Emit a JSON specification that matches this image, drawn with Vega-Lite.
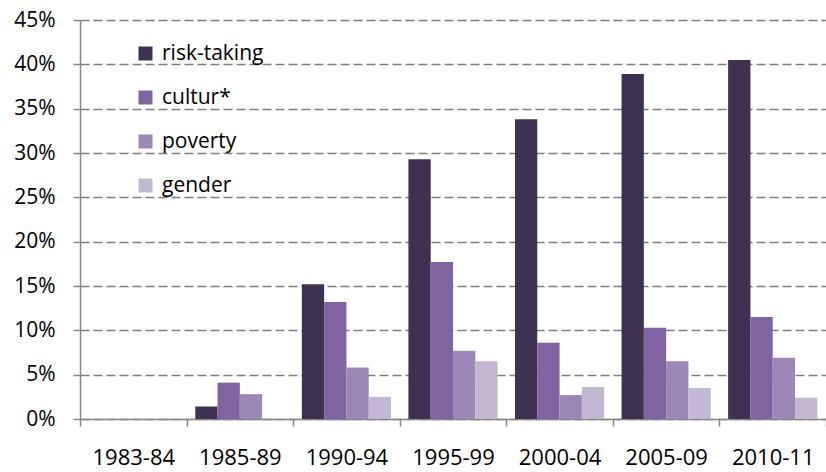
{
  "$schema": "https://vega.github.io/schema/vega-lite/v6.json",
  "width": 746,
  "height": 399,
  "autosize": {"type": "none"},
  "padding": {"left": 80, "top": 20, "right": 0, "bottom": 53},
  "background": "#ffffff",
  "config": {
    "font": "Open Sans",
    "view": {"stroke": null}
  },
  "data": {
    "values": [
      {"period": "1983-84", "series": "risk-taking", "value": 0},
      {"period": "1983-84", "series": "cultur*", "value": 0},
      {"period": "1983-84", "series": "poverty", "value": 0},
      {"period": "1983-84", "series": "gender", "value": 0},
      {"period": "1985-89", "series": "risk-taking", "value": 0.014},
      {"period": "1985-89", "series": "cultur*", "value": 0.041},
      {"period": "1985-89", "series": "poverty", "value": 0.028},
      {"period": "1985-89", "series": "gender", "value": 0},
      {"period": "1990-94", "series": "risk-taking", "value": 0.152},
      {"period": "1990-94", "series": "cultur*", "value": 0.132},
      {"period": "1990-94", "series": "poverty", "value": 0.058},
      {"period": "1990-94", "series": "gender", "value": 0.025},
      {"period": "1995-99", "series": "risk-taking", "value": 0.293},
      {"period": "1995-99", "series": "cultur*", "value": 0.177},
      {"period": "1995-99", "series": "poverty", "value": 0.077},
      {"period": "1995-99", "series": "gender", "value": 0.065},
      {"period": "2000-04", "series": "risk-taking", "value": 0.338},
      {"period": "2000-04", "series": "cultur*", "value": 0.086},
      {"period": "2000-04", "series": "poverty", "value": 0.027},
      {"period": "2000-04", "series": "gender", "value": 0.036},
      {"period": "2005-09", "series": "risk-taking", "value": 0.389},
      {"period": "2005-09", "series": "cultur*", "value": 0.103},
      {"period": "2005-09", "series": "poverty", "value": 0.065},
      {"period": "2005-09", "series": "gender", "value": 0.035},
      {"period": "2010-11", "series": "risk-taking", "value": 0.405},
      {"period": "2010-11", "series": "cultur*", "value": 0.115},
      {"period": "2010-11", "series": "poverty", "value": 0.069},
      {"period": "2010-11", "series": "gender", "value": 0.024}
    ]
  },
  "mark": {"type": "bar"},
  "encoding": {
    "x": {
      "field": "period",
      "type": "nominal",
      "sort": null,
      "scale": {"paddingInner": 0, "paddingOuter": 0},
      "axis": {
        "title": null,
        "labelAngle": 0,
        "tickBand": "extent",
        "domainColor": "#868686",
        "domainWidth": 1.5,
        "tickColor": "#868686",
        "tickWidth": 1.5,
        "tickSize": 7,
        "labelFontSize": 22,
        "labelColor": "#000000",
        "labelPadding": 21,
        "grid": false
      }
    },
    "xOffset": {
      "field": "series",
      "type": "nominal",
      "sort": ["risk-taking", "cultur*", "poverty", "gender"],
      "scale": {"paddingInner": 0, "paddingOuter": 0.39}
    },
    "y": {
      "field": "value",
      "type": "quantitative",
      "scale": {"domain": [0, 0.45], "nice": false},
      "axis": {
        "title": null,
        "format": ".0%",
        "values": [0, 0.05, 0.1, 0.15, 0.2, 0.25, 0.3, 0.35, 0.4, 0.45],
        "domainColor": "#868686",
        "domainWidth": 1.5,
        "tickColor": "#868686",
        "tickWidth": 1.5,
        "tickSize": 7,
        "labelFontSize": 21,
        "labelColor": "#000000",
        "labelPadding": 18,
        "grid": true,
        "gridColor": "#7f7f7f",
        "gridDash": [9, 4],
        "gridWidth": 1.3
      }
    },
    "color": {
      "field": "series",
      "type": "nominal",
      "scale": {
        "domain": ["risk-taking", "cultur*", "poverty", "gender"],
        "range": ["#3F3151", "#8064A2", "#9C88B5", "#C3B8D1"]
      },
      "legend": {
        "title": null,
        "orient": "none",
        "legendX": 55,
        "legendY": 23,
        "symbolType": "square",
        "symbolSize": 196,
        "symbolStrokeWidth": 0,
        "labelFontSize": 21,
        "labelColor": "#000000",
        "labelOffset": 6,
        "rowPadding": 22
      }
    }
  }
}
